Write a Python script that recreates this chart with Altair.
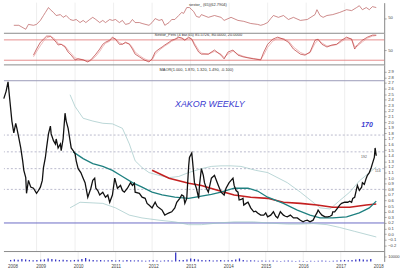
import altair as alt
import pandas as pd

FONT = "Liberation Sans"
W = 385
XDOM = [2008.154, 2018.026]
YEARS = list(range(2009, 2018))

# ---------------- main panel: weekly price (traced) ----------------
price_t = [
    2008.15, 2008.21, 2008.26, 2008.31, 2008.36, 2008.41, 2008.46, 2008.49, 2008.54, 2008.59,
    2008.64, 2008.67, 2008.72, 2008.74, 2008.79, 2008.85, 2008.92, 2009.00, 2009.05, 2009.10,
    2009.15, 2009.18, 2009.23, 2009.26, 2009.31, 2009.36, 2009.38, 2009.44, 2009.49, 2009.51,
    2009.56, 2009.62, 2009.64, 2009.69, 2009.74, 2009.77, 2009.82, 2009.87, 2009.90, 2009.95,
    2010.00, 2010.03, 2010.08, 2010.15, 2010.21, 2010.26, 2010.33, 2010.41, 2010.46, 2010.51,
    2010.54, 2010.59, 2010.64, 2010.72, 2010.79, 2010.85, 2010.90, 2010.97, 2011.03, 2011.10,
    2011.18, 2011.23, 2011.28, 2011.36, 2011.44, 2011.49, 2011.54, 2011.56, 2011.67, 2011.74,
    2011.82, 2011.87, 2011.92, 2012.00, 2012.08, 2012.13, 2012.18, 2012.26, 2012.33, 2012.38,
    2012.44, 2012.51, 2012.59, 2012.64, 2012.72, 2012.77, 2012.82, 2012.85, 2012.90, 2012.95,
    2012.97, 2013.03, 2013.05, 2013.10, 2013.15, 2013.21, 2013.23, 2013.28, 2013.33, 2013.36,
    2013.41, 2013.46, 2013.54, 2013.62, 2013.67, 2013.72, 2013.79, 2013.87, 2013.92, 2014.00,
    2014.05, 2014.10, 2014.13, 2014.18, 2014.23, 2014.26, 2014.31, 2014.36, 2014.38, 2014.44,
    2014.49, 2014.56, 2014.64, 2014.69, 2014.74, 2014.82, 2014.90, 2014.95, 2015.00, 2015.08,
    2015.15, 2015.21, 2015.26, 2015.33, 2015.41, 2015.46, 2015.51, 2015.59, 2015.67, 2015.77,
    2015.85, 2015.92, 2015.97, 2016.03, 2016.10, 2016.18, 2016.23, 2016.28, 2016.31, 2016.36,
    2016.41, 2016.49, 2016.56, 2016.62, 2016.67, 2016.69, 2016.74, 2016.82, 2016.87, 2016.92,
    2017.00, 2017.08, 2017.13, 2017.18, 2017.21, 2017.26, 2017.33, 2017.38, 2017.44, 2017.46,
    2017.51, 2017.56, 2017.59, 2017.64, 2017.69, 2017.72, 2017.77, 2017.79, 2017.82,
]
price_v = [
    2.42, 2.55, 2.72, 2.37, 2.02, 1.81, 1.98, 1.89, 1.72, 1.54,
    1.31, 1.14, 1.01, 0.73, 0.96, 0.84, 0.82, 0.73, 0.78, 0.84,
    0.96, 1.19, 1.37, 1.54, 1.79, 1.93, 1.79, 1.67, 1.61, 1.70,
    1.54, 1.61, 1.49, 1.70, 2.16, 2.02, 1.89, 1.67, 1.54, 1.49,
    1.44, 1.31, 1.17, 1.10, 1.00, 0.92, 0.66, 0.82, 0.96, 1.00,
    0.82, 0.78, 0.70, 0.75, 0.66, 0.70, 0.57, 0.70, 1.00, 0.82,
    0.87, 0.78, 0.75, 0.82, 0.92, 0.87, 0.91, 0.75, 0.73, 0.66,
    0.64, 0.55, 0.52, 0.47, 0.57, 0.50, 0.47, 0.43, 0.34, 0.36,
    0.38, 0.40, 0.47, 0.57, 0.64, 0.70, 0.68, 0.55, 0.64, 1.22,
    1.37, 1.45, 1.31, 0.92, 0.82, 0.64, 0.87, 1.17, 1.05, 0.92,
    0.82, 0.75, 1.00, 1.05, 0.96, 0.87, 0.75, 0.70, 0.82, 0.92,
    0.96, 1.00, 0.87, 0.78, 0.75, 0.61, 0.62, 0.64, 0.52, 0.55,
    0.57, 0.47, 0.40, 0.41, 0.38, 0.34, 0.34, 0.38, 0.31, 0.34,
    0.40, 0.32, 0.29, 0.40, 0.34, 0.32, 0.31, 0.34, 0.29, 0.29,
    0.25, 0.22, 0.24, 0.25, 0.22, 0.25, 0.32, 0.38, 0.43, 0.38,
    0.34, 0.31, 0.31, 0.32, 0.34, 0.40, 0.40, 0.47, 0.52, 0.55,
    0.57, 0.57, 0.59, 0.57, 0.64, 0.66, 0.87, 0.78, 0.84, 0.92,
    0.89, 1.00, 1.05, 1.10, 1.19, 1.26, 1.37, 1.54, 1.40,
]

ma_teal_t = [2009.95, 2010.21, 2010.46, 2010.72, 2010.97, 2011.23, 2011.49, 2011.74, 2012.00, 2012.26,
             2012.59, 2012.95, 2013.28, 2013.54, 2013.79, 2014.13, 2014.49, 2014.74, 2015.00, 2015.41,
             2015.77, 2016.10, 2016.36, 2016.69, 2017.05, 2017.38, 2017.64, 2017.82]
ma_teal_v = [1.47, 1.35, 1.26, 1.21, 1.14, 1.03, 0.92, 0.84, 0.75, 0.70,
             0.66, 0.64, 0.68, 0.71, 0.75, 0.82, 0.82, 0.77, 0.66, 0.55,
             0.43, 0.34, 0.29, 0.29, 0.31, 0.38, 0.47, 0.59]

ma_red_t = [2012.00, 2012.44, 2012.95, 2013.28, 2013.72, 2014.13, 2014.56, 2015.00, 2015.41, 2015.85,
            2016.28, 2016.69, 2017.13, 2017.56, 2017.82]
ma_red_v = [1.14, 1.00, 0.91, 0.87, 0.78, 0.70, 0.66, 0.64, 0.57, 0.55,
            0.52, 0.48, 0.48, 0.52, 0.54]

band_up_t = [2009.87, 2010.00, 2010.21, 2010.46, 2010.72, 2010.97, 2011.23, 2011.41, 2011.56, 2011.74,
             2011.92, 2012.18, 2012.44, 2012.69, 2012.95, 2013.28, 2013.54, 2013.79, 2014.05, 2014.31,
             2014.69, 2015.00, 2015.51, 2015.85, 2016.18, 2016.36, 2016.62, 2016.87, 2017.13, 2017.38,
             2017.64, 2017.82]
band_up_v = [2.49, 2.28, 2.07, 2.02, 1.98, 1.97, 1.89, 1.61, 1.31, 1.19,
             1.10, 1.05, 1.01, 1.03, 1.10, 1.17, 1.21, 1.22, 1.22, 1.21,
             1.14, 1.10, 0.92, 0.75, 0.57, 0.47, 0.45, 0.60, 0.75, 0.95,
             1.10, 1.20]

band_lo_t = [2009.87, 2010.13, 2010.72, 2011.05, 2011.41, 2011.74, 2012.18, 2012.59, 2012.95, 2013.28,
             2013.72, 2014.13, 2014.64, 2015.00, 2015.51, 2015.85, 2016.18, 2016.54, 2016.87, 2017.26,
             2017.82]
band_lo_v = [0.47, 0.57, 0.55, 0.47, 0.34, 0.29, 0.25, 0.22, 0.17, 0.17,
             0.20, 0.22, 0.22, 0.20, 0.18, 0.18, 0.19, 0.17, 0.12, 0.05,
             -0.05]

dashed_levels = [1.77, 1.47, 1.17, 0.80]
solid_top = [2.74]
solid_base = [0.20]
main_ticks = [round(-0.2 + 0.1 * i, 1) for i in range(32)]

# ---------------- top panel: relative-strength line ----------------
rs_t = [
    2008.41, 2008.54, 2008.72, 2008.79, 2008.92, 2009.00, 2009.10, 2009.18, 2009.23, 2009.31,
    2009.36, 2009.44, 2009.51, 2009.62, 2009.69, 2009.77, 2009.87, 2009.95, 2010.03, 2010.13,
    2010.21, 2010.28, 2010.38, 2010.46, 2010.54, 2010.64, 2010.72, 2010.79, 2010.90, 2010.97,
    2011.05, 2011.15, 2011.23, 2011.31, 2011.41, 2011.49, 2011.56, 2011.67, 2011.74, 2011.92,
    2012.00, 2012.08, 2012.18, 2012.26, 2012.33, 2012.44, 2012.51, 2012.59, 2012.69, 2012.77,
    2012.82, 2012.90, 2012.97, 2013.03, 2013.08, 2013.15, 2013.23, 2013.28, 2013.46, 2013.62,
    2013.79, 2013.87, 2014.05, 2014.23, 2014.38, 2014.56, 2014.74, 2014.82, 2014.90, 2015.00,
    2015.08, 2015.15, 2015.28, 2015.41, 2015.54, 2015.67, 2015.85, 2016.03, 2016.23, 2016.28,
    2016.36, 2016.44, 2016.54, 2016.69, 2016.87, 2017.05, 2017.18, 2017.31, 2017.38, 2017.46,
    2017.56, 2017.64, 2017.72, 2017.82,
]
rs_v = [
    26, 26, 13, 29, 26, 29, 42, 58, 68, 84,
    77, 68, 58, 61, 52, 58, 45, 42, 45, 35,
    42, 35, 45, 52, 45, 35, 42, 35, 45, 42,
    45, 35, 42, 29, 32, 45, 35, 35, 32, 26,
    35, 48, 42, 45, 26, 35, 45, 45, 58, 68,
    65, 84, 84, 77, 71, 55, 52, 61, 52, 58,
    52, 42, 52, 42, 39, 32, 29, 26, 29, 35,
    48, 58, 52, 58, 45, 52, 42, 45, 61, 77,
    58, 52, 58, 61, 68, 77, 74, 84, 90, 77,
    84, 77, 87, 84,
]

# ---------------- second panel: stochastic ----------------
st_t = [
    2008.92, 2009.00, 2009.10, 2009.18, 2009.26, 2009.36, 2009.44, 2009.51, 2009.56, 2009.64,
    2009.74, 2009.82, 2009.90, 2010.00, 2010.08, 2010.21, 2010.33, 2010.41, 2010.54, 2010.64,
    2010.72, 2010.79, 2010.90, 2010.97, 2011.05, 2011.15, 2011.23, 2011.31, 2011.41, 2011.49,
    2011.56, 2011.67, 2011.79, 2011.92, 2012.00, 2012.08, 2012.18, 2012.26, 2012.33, 2012.44,
    2012.51, 2012.59, 2012.69, 2012.77, 2012.85, 2012.95, 2013.03, 2013.10, 2013.21, 2013.28,
    2013.46, 2013.62, 2013.79, 2013.87, 2013.97, 2014.10, 2014.23, 2014.36, 2014.49, 2014.64,
    2014.82, 2014.90, 2015.00, 2015.13, 2015.26, 2015.41, 2015.54, 2015.67, 2015.85, 2015.97,
    2016.10, 2016.23, 2016.31, 2016.41, 2016.54, 2016.67, 2016.79, 2016.92, 2017.05, 2017.18,
    2017.26, 2017.33, 2017.46, 2017.59, 2017.72, 2017.82,
]
st_k = [
    35, 53, 73, 82, 91, 91, 82, 73, 65, 67,
    59, 44, 35, 21, 24, 21, 15, 21, 38, 53,
    67, 73, 79, 88, 82, 67, 67, 73, 67, 53,
    38, 30, 21, 15, 24, 44, 53, 59, 65, 73,
    79, 82, 88, 85, 79, 88, 82, 65, 44, 38,
    38, 50, 35, 24, 44, 50, 35, 30, 27, 24,
    21, 44, 67, 82, 88, 82, 73, 53, 38, 35,
    44, 79, 82, 67, 59, 65, 67, 79, 88, 82,
    53, 65, 79, 88, 94, 94,
]
st_d = [
    30, 45, 63, 76, 86, 90, 86, 78, 70, 67,
    62, 50, 40, 27, 24, 22, 17, 19, 32, 46,
    60, 70, 76, 84, 84, 72, 68, 71, 69, 58,
    44, 34, 25, 18, 21, 37, 49, 56, 62, 70,
    76, 80, 86, 86, 81, 85, 83, 70, 50, 41,
    38, 46, 38, 28, 38, 47, 38, 32, 28, 25,
    22, 36, 58, 76, 85, 84, 77, 59, 43, 37,
    42, 70, 79, 71, 62, 63, 66, 75, 85, 83,
    60, 62, 74, 85, 91, 93,
]
st_levels = [80, 20]

# ---------------- volume ----------------
volume = [
    3000, 4000, 3500, 5000, 4000, 3000, 2500, 3000, 3500,
    4000, 6000, 5000, 4000, 3000, 3500, 3000, 2500, 3000, 3500,
    5000, 7000, 4000, 3000, 2500, 3000, 2000, 2500, 3000, 2000,
    2500, 2000, 3000, 2500, 2000, 2500, 2000, 1500, 2000, 2500,
    2000, 1500, 2000, 2500, 2000, 18000, 3000, 3000, 4000, 6000,
    5000, 4000, 3000, 2500, 3000, 2000, 2500, 3000, 2000, 2500,
    3000, 4000, 6000, 3000, 2000, 2500, 2000, 1500, 2000, 1500,
    1500, 2000, 1500, 1000, 1500, 2000, 1500, 1000, 1500, 1000,
    1000, 1500, 1000, 1500, 2000, 1500, 1000, 1500, 2000, 2500,
    3000, 2500, 3000, 4000, 5000, 4000, 3500, 5000,
]
vol_t = [round(2008.2 + 0.1 * i, 2) for i in range(len(volume))]

# ---------------- helpers ----------------
XS = alt.Scale(domain=XDOM, nice=False, zero=False)


def X(axis=None):
    return alt.X("t:Q", scale=XS, axis=axis)


def yaxis(values, fmt):
    return alt.Axis(orient="right", values=values, format=fmt, labelFontSize=4.2, labelFont=FONT,
                    labelColor="#444", tickSize=2, tickColor="#777", tickWidth=0.6,
                    domainColor="#666", domainWidth=0.8, labelPadding=1.5, grid=False,
                    title=None, labelOverlap=False)


def grid_layer(xaxis=None):
    return alt.Chart(pd.DataFrame({"t": YEARS})).mark_rule(color="#e4e4e4", strokeWidth=0.6).encode(x=X(xaxis))


def top_rule():
    return alt.Chart(pd.DataFrame({"a": [0]})).mark_rule(color="#8a8a8a", strokeWidth=1).encode(y=alt.value(0))


def text_layer(t, v, s, yscale, yax, xaxis=None, **kw):
    df = pd.DataFrame({"t": t, "v": v, "s": s})
    return alt.Chart(df).mark_text(font=FONT, **kw).encode(
        x=X(xaxis), y=alt.Y("v:Q", scale=yscale, axis=yax), text="s:N")


# ---------------- panel A ----------------
ysA = alt.Scale(domain=[0, 100], nice=False, zero=False)
axA = yaxis([50], "d")
panelA = alt.layer(
    grid_layer(),
    alt.Chart(pd.DataFrame({"t": rs_t, "v": rs_v})).mark_line(color="#b85858", strokeWidth=0.7).encode(
        x=X(), y=alt.Y("v:Q", scale=ysA, axis=axA)),
    text_layer([2013.45], [92], ["sestor_ (65)(62.7904)"], ysA, axA, fontSize=4, color="#333"),
).properties(width=W, height=31)

# ---------------- panel B ----------------
ysB = alt.Scale(domain=[6.3, 99.5], nice=False, zero=False)
axB = yaxis([50], "d")
panelB = alt.layer(
    grid_layer(),
    alt.Chart(pd.DataFrame({"v": st_levels})).mark_rule(color="#e07070", strokeWidth=0.8).encode(
        y=alt.Y("v:Q", scale=ysB, axis=axB)),
    alt.Chart(pd.DataFrame({"t": st_t, "v": st_d})).mark_line(color="#e89a9a", strokeWidth=0.7).encode(
        x=X(), y=alt.Y("v:Q", scale=ysB, axis=axB)),
    alt.Chart(pd.DataFrame({"t": st_t, "v": st_k})).mark_line(color="#b83030", strokeWidth=0.7).encode(
        x=X(), y=alt.Y("v:Q", scale=ysB, axis=axB)),
    text_layer([2013.2], [94], ["Sestor_Pets (4 bar,65) 85.5726, 80.0000, 20.0000"], ysB, axB,
               fontSize=4, color="#333"),
    top_rule(),
).properties(width=W, height=32)

# ---------------- main panel ----------------
ysM = alt.Scale(domain=[-0.31, 3.023], nice=False, zero=False)
axM = yaxis(main_ticks, ".1f")


def line_main(t, v, **kw):
    return alt.Chart(pd.DataFrame({"t": t, "v": v})).mark_line(**kw).encode(
        x=X(), y=alt.Y("v:Q", scale=ysM, axis=axM))


def hline_main(levels, **kw):
    return alt.Chart(pd.DataFrame({"v": levels})).mark_rule(**kw).encode(
        y=alt.Y("v:Q", scale=ysM, axis=axM))


panelM = alt.layer(
    grid_layer(),
    hline_main(dashed_levels, color="#9a9ab6", strokeWidth=0.7, strokeDash=[2, 2]),
    hline_main(solid_top, color="#9a9ab8", strokeWidth=1),
    hline_main(solid_base, color="#6a6ac4", strokeWidth=1),
    line_main(band_up_t, band_up_v, color="#9cc4c4", strokeWidth=0.7),
    line_main(band_lo_t, band_lo_v, color="#9cc4c4", strokeWidth=0.7),
    line_main(ma_red_t, ma_red_v, color="#c42020", strokeWidth=1.6),
    line_main(ma_teal_t, ma_teal_v, color="#1f8080", strokeWidth=1.3),
    line_main(price_t, price_v, color="#111111", strokeWidth=1.3),
    text_layer([2013.15], [2.93], ["MAOR(1.000, 1.870, 1.320, 1.490, -0.100)"], ysM, axM,
               fontSize=4, color="#333"),
    text_layer([2013.5], [2.32], ["XAKOR WEEKLY"], ysM, axM, fontSize=9, fontStyle="italic",
               color="#3a3ad0"),
    text_layer([2017.58], [1.95], ["170"], ysM, axM, fontSize=7, fontStyle="italic",
               fontWeight="bold", color="#3a3ad0"),
    text_layer([2017.5], [1.38], ["192"], ysM, axM, fontSize=3.5, color="#555"),
    text_layer([2017.86], [1.12], ["114"], ysM, axM, fontSize=3.5, color="#555"),
    top_rule(),
).properties(width=W, height=189)

# ---------------- volume panel ----------------
ysV = alt.Scale(domain=[0, 20000], nice=False, zero=True)
axV = yaxis([10000], "d")
xaxV = alt.Axis(values=[2008.25] + list(range(2009, 2019)), format="d", labelFontSize=4.5,
                labelFont=FONT, labelColor="#444", ticks=False, domain=False, grid=False,
                labelPadding=2, title=None, labelOverlap=False)
panelV = alt.layer(
    grid_layer(xaxV),
    alt.Chart(pd.DataFrame({"t": vol_t, "v": volume})).mark_bar(size=1.3, color="#3434c4").encode(
        x=X(xaxV), y=alt.Y("v:Q", scale=ysV, axis=axV)),
    top_rule(),
).properties(width=W, height=10)

chart = alt.vconcat(panelA, panelB, panelM, panelV, spacing=0, bounds="flush").properties(
    padding=0, background="white"
).configure_view(stroke="transparent")

chart.save("out.html", embed_options={"renderer": "svg", "actions": False})
